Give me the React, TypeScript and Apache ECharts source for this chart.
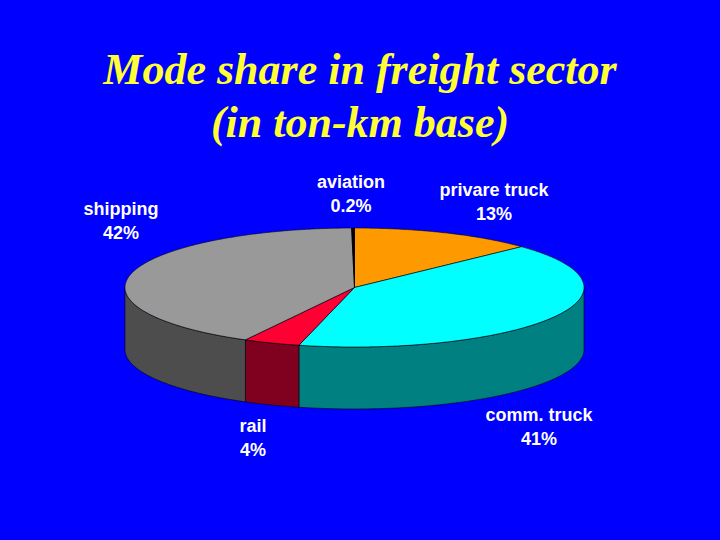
import React, { useEffect, useRef } from "react";
import * as echarts from "echarts";

const titleLines = ["Mode share in freight sector", "(in ton-km base)"];
const categories = ["privare truck", "comm. truck", "rail", "shipping", "aviation"];
const shares = [13, 41, 4, 42, 0.2];
const shareLabels = ["13%", "41%", "4%", "42%", "0.2%"];
const topColors = ["#FF9900", "#00FFFF", "#FF0033", "#999999", "#000000"];
const wallColors = ["#805000", "#008080", "#800020", "#4D4D4D", "#000000"];
const labelCenters = [
  [494, 202],
  [539, 427],
  [253, 438],
  [121, 221],
  [351, 194],
];

const CX = 354.5;
const CY = 287.5;
const RX = 229.5;
const RY = 59.5;
const DEPTH = 62;
const TOTAL = shares.reduce((a, b) => a + b, 0);

const pt = (deg: number, dy = 0): number[] => {
  const r = (deg * Math.PI) / 180;
  return [CX + RX * Math.sin(r), CY - RY * Math.cos(r) + dy];
};

const arcPts = (a: number, b: number, dy = 0): number[][] => {
  const n = Math.max(2, Math.ceil(Math.abs(b - a) * 2));
  const out: number[][] = [];
  for (let i = 0; i <= n; i++) out.push(pt(a + ((b - a) * i) / n, dy));
  return out;
};

export default function App() {
  const ref = useRef<HTMLDivElement>(null);
  useEffect(() => {
    document.body.style.margin = "0";
    const chart = echarts.init(ref.current!, undefined, { renderer: "svg" });
    chart.setOption({
      animation: false,
      backgroundColor: "#0000FF",
      graphic: [
        ...titleLines.map((t, i) => ({
          type: "text",
          x: 360,
          y: 69 + i * 53,
          silent: true,
          style: {
            text: t,
            fill: "#FFFF33",
            font: "italic bold 44px 'Liberation Serif'",
            align: "center",
            verticalAlign: "middle",
          },
        })),
        ...categories.map((c, i) => ({
          type: "text",
          x: labelCenters[i][0],
          y: labelCenters[i][1],
          silent: true,
          style: {
            text: c + "\n" + shareLabels[i],
            fill: "#FFFFFF",
            font: "bold 18px 'Liberation Sans'",
            lineHeight: 24,
            align: "center",
            verticalAlign: "middle",
          },
        })),
      ],
      series: [
        {
          type: "custom",
          coordinateSystem: "none",
          clip: false,
          data: shares.map((v) => [v]),
          renderItem: (params: any, api: any) => {
            const i = params.dataIndex;
            const v = api.value(0);
            let before = 0;
            for (let k = 0; k < i; k++) before += shares[k];
            const a = (before / TOTAL) * 360;
            const b = ((before + v) / TOTAL) * 360;
            const children: any[] = [];
            const w0 = Math.max(a, 90);
            const w1 = Math.min(b, 270);
            if (w1 > w0) {
              children.push({
                type: "polygon",
                shape: {
                  points: [...arcPts(w0, w1), ...arcPts(w1, w0, DEPTH)],
                },
                style: { fill: wallColors[i], stroke: "#000000", lineWidth: 0.6 },
              });
            }
            children.push({
              type: "polygon",
              shape: { points: [[CX, CY], ...arcPts(a, b)] },
              style: { fill: topColors[i], stroke: "#000000", lineWidth: 0.6 },
            });
            return { type: "group", children };
          },
        },
      ],
    });
    return () => chart.dispose();
  }, []);
  return <div ref={ref} style={{ width: 720, height: 540 }} />;
}
